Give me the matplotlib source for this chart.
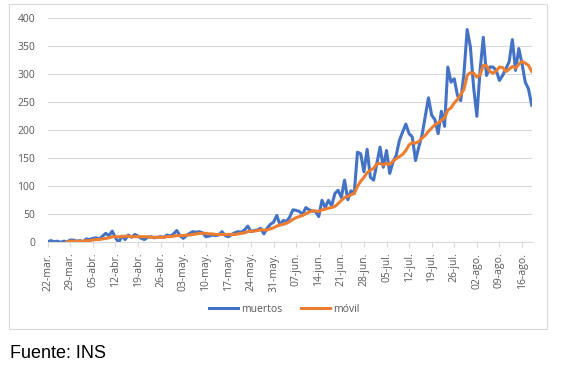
import datetime as dt
import matplotlib
matplotlib.use("Agg")
import matplotlib.pyplot as plt
from matplotlib.patches import Rectangle

# Daily deaths from 22-mar (index 0) to 19-ago
muertos = [
    1, 3, 1, 2, 0, 2, 1, 4, 4, 2,
    3, 1, 6, 5, 7, 8, 6, 11, 16, 12,
    20, 8, 0, 11, 5, 13, 9, 14, 11, 7,
    5, 9, 10, 8, 9, 10, 9, 13, 11, 15,
    21, 12, 7, 12, 16, 19, 18, 19, 17, 10,
    11, 13, 12, 13, 19, 12, 10, 14, 17, 19,
    18, 22, 29, 19, 21, 22, 25, 15, 25, 32,
    36, 48, 31, 39, 37, 45, 58, 57, 55, 50,
    62, 58, 56, 55, 46, 75, 62, 75, 65, 87,
    93, 80, 111, 76, 92, 87, 161, 158, 126, 166,
    116, 111, 140, 170, 134, 164, 123, 143, 155, 182,
    197, 211, 194, 188, 146, 170, 191, 225, 258, 227,
    219, 194, 234, 207, 313, 286, 292, 262, 253, 301,
    380, 349, 277, 225, 307, 366, 298, 313, 313, 307,
    289, 298, 310, 322, 362, 307, 346, 319, 286, 274,
    245,
]

# Moving average (starts on the 7th day)
movil = [None] * 6 + [
    1, 2, 2, 2, 2, 2, 3, 3, 4, 5,
    5, 6, 7, 8, 10, 10, 10, 10, 11, 11,
    10, 10, 10, 10, 10, 10, 9, 9, 9, 9,
    9, 10, 10, 11, 12, 12, 12, 13, 13, 14,
    15, 16, 16, 16, 15, 15, 14, 14, 14, 14,
    14, 14, 14, 15, 16, 17, 19, 20, 20, 21,
    22, 22, 22, 24, 26, 29, 31, 32, 34, 37,
    41, 44, 46, 48, 51, 54, 56, 56, 55, 58,
    59, 61, 62, 64, 69, 75, 80, 82, 85, 87,
    100, 109, 116, 124, 129, 132, 140, 141, 138, 141,
    139, 145, 149, 153, 157, 164, 174, 178, 177, 180,
    186, 191, 198, 204, 210, 213, 218, 222, 236, 240,
    249, 255, 264, 273, 298, 303, 302, 295, 299, 316,
    315, 305, 302, 306, 313, 312, 305, 309, 314, 311,
    318, 323, 320, 316, 305,
]

start = dt.date(2020, 3, 22)
meses = ["ene", "feb", "mar", "abr", "may", "jun", "jul", "ago", "sep", "oct", "nov", "dic"]
tick_idx = list(range(0, len(muertos), 7))
tick_labels = []
for i in tick_idx:
    d = start + dt.timedelta(days=i)
    tick_labels.append(f"{d.day:02d}-{meses[d.month - 1]}.")

plt.rcParams["font.family"] = ["Open Sans", "DejaVu Sans"]
grey = "#595959"
light = "#D9D9D9"

fig = plt.figure(figsize=(5.68, 3.68), dpi=100)
ax = fig.add_axes([47.7 / 568, 1 - 242.3 / 368, (531.7 - 47.7) / 568, (242.3 - 18.3) / 368])

x = list(range(len(muertos)))
ax.plot(x, muertos, color="#4472C4", lw=2.2, label="muertos", solid_joinstyle="round")
ax.plot(x, movil, color="#ED7D31", lw=2.2, label="móvil", solid_joinstyle="round")

ax.set_xlim(0, len(muertos) - 1)
ax.set_ylim(0, 400)
ax.set_yticks(range(0, 401, 50))
ax.grid(axis="y", color=light, lw=0.8)
ax.set_axisbelow(True)
ax.set_xticks(tick_idx)
ax.set_xticklabels(tick_labels, rotation=90)

for s in ["top", "right", "left"]:
    ax.spines[s].set_visible(False)
ax.spines["bottom"].set_color(light)
ax.spines["bottom"].set_linewidth(0.8)
ax.tick_params(axis="y", length=0, pad=9, labelsize=7.5, labelcolor=grey)
ax.tick_params(axis="x", length=3.5, width=0.8, color=light, pad=4, labelsize=7.5, labelcolor=grey)

fig.legend(loc="center", bbox_to_anchor=(0.5, 1 - 309 / 368), ncol=2, frameon=False,
           fontsize=7.5, labelcolor=grey, handlelength=2.8, handletextpad=0.3, columnspacing=1.8)

fig.patches.append(Rectangle((9 / 568, 1 - 329 / 368), (547 - 9) / 568, (329 - 4) / 368,
                             transform=fig.transFigure, fill=False, edgecolor=light, lw=0.8))

fig.text(10 / 568, 1 - 358 / 368, "Fuente: INS", fontsize=13, family="Liberation Sans",
         color="black", ha="left", va="baseline")

fig.savefig("out.png", dpi=100)
